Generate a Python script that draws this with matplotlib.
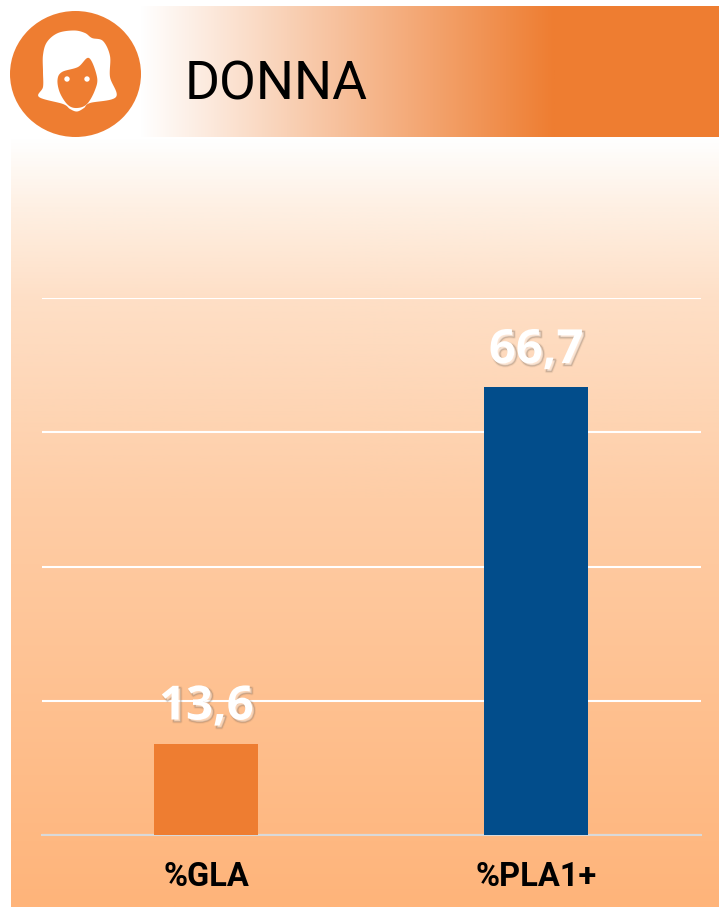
import numpy as np
import matplotlib
matplotlib.use('Agg')
import matplotlib.pyplot as plt
import matplotlib.patheffects as pe
from matplotlib.colors import LinearSegmentedColormap
from matplotlib.patches import Ellipse, Circle, Polygon

categories = ["%GLA", "%PLA1+"]
values = [13.6, 66.7]
value_labels = ["13,6", "66,7"]
bar_colors = ["#EE7D31", "#024D8B"]
yticks = [0, 20, 40, 60, 80]

W, H = 719, 907
ORANGE = "#EE7D31"

# hair and face outlines of the icon, in pixels of the picture
hair = [(39, 97), (43, 87), (43, 72), (43, 55), (47, 42), (58, 33), (74, 30.5), (85, 33), (92, 38),
        (103, 41), (110, 56), (110, 77), (116, 97), (90, 103), (84, 108), (77, 111.5), (70, 109),
        (63, 104)]
face = [(89, 58), (97, 77), (95, 90), (87, 104), (77, 108), (68, 105), (60, 93),
        (57.5, 80), (62, 72), (78, 67)]


def smooth(pts, n=12):
    # closed catmull-rom so the icon has no corners
    pts = np.array(pts, float)
    out = []
    for i in range(len(pts)):
        p0, p1, p2, p3 = pts[i - 1], pts[i], pts[(i + 1) % len(pts)], pts[(i + 2) % len(pts)]
        for t in np.linspace(0, 1, n, endpoint=False):
            out.append(0.5 * (2 * p1 + (p2 - p0) * t + (2 * p0 - 5 * p1 + 4 * p2 - p3) * t ** 2
                              + (3 * p1 - p0 - 3 * p2 + p3) * t ** 3))
    return np.array(out)


fig = plt.figure(figsize=(W / 100, H / 100), dpi=100, facecolor="white")

# background layer in pixel coordinates
bg = fig.add_axes([0, 0, 1, 1], zorder=0)
bg.axis("off")

panel_cmap = LinearSegmentedColormap.from_list(
    "panel", [(0, "#FFFFFF"), (0.09, "#FEF0E3"), (0.21, "#FEDFC6"), (0.47, "#FECDA6"), (1, "#FFB47A")])
bg.imshow(np.linspace(0, 1, 512).reshape(-1, 1), cmap=panel_cmap, aspect="auto",
          extent=[11, W, H, 137], zorder=1)
head_cmap = LinearSegmentedColormap.from_list("head", ["#FFFFFF", ORANGE])
bg.imshow(np.linspace(0, 1, 256).reshape(1, -1), cmap=head_cmap, aspect="auto",
          extent=[140, 555, 137, 6], zorder=1)
bg.fill_between([555, W], 6, 137, color=ORANGE, lw=0, zorder=1)
bg.set_xlim(0, W)
bg.set_ylim(H, 0)

bg.add_patch(Ellipse((75.5, 74), 131, 126, color=ORANGE, lw=0, zorder=2))
bg.add_patch(Polygon(smooth(hair), color="white", lw=0, zorder=3))
bg.add_patch(Polygon(smooth(face), color=ORANGE, lw=0, zorder=4))
for ex in (67, 87):
    bg.add_patch(Circle((ex, 79), 2.7, color="white", lw=0, zorder=5))

bg.text(185, 79, "DONNA", family="Roboto", fontsize=38.5, color="black", va="center_baseline", ha="left", zorder=5)

# chart
ax = fig.add_axes([41.5 / W, 1 - 835 / H, 659.5 / W, 537 / H], zorder=1)
ax.patch.set_alpha(0)
x = np.arange(len(categories))
ax.bar(x, values, width=0.316, color=bar_colors, zorder=3)
ax.set_xlim(-0.5, 1.5)
ax.set_ylim(0, 80)
ax.set_yticks(yticks)
ax.set_xticks(x)
ax.set_xticklabels(categories, family="Roboto", fontweight="bold", fontsize=23.5, color="black")
ax.tick_params(axis="x", length=0, pad=18.5)
ax.tick_params(axis="y", length=0, labelleft=False)
ax.grid(axis="y", color="white", lw=1.5, zorder=1)
ax.spines[["top", "right", "left"]].set_visible(False)
ax.spines["bottom"].set_color("#D9D9D9")
ax.spines["bottom"].set_linewidth(1.5)

# soft drop shadow: faint offset strokes under the white text
for xi, v, lab in zip(x, values, value_labels):
    t = ax.annotate(lab, (xi, v), xytext=(0, 9.5), textcoords="offset points", ha="center", va="bottom",
                    family="Open Sans", fontweight="bold", fontsize=34, color="white", zorder=5)
    t.set_path_effects([
        pe.Stroke(linewidth=2.4, foreground="#7A6656", alpha=0.1, offset=(1.6, -1.6)),
        pe.Stroke(linewidth=1.0, foreground="#7A6656", alpha=0.3, offset=(1.6, -1.6)),
        pe.Normal()])

fig.savefig("out.png", dpi=100)
